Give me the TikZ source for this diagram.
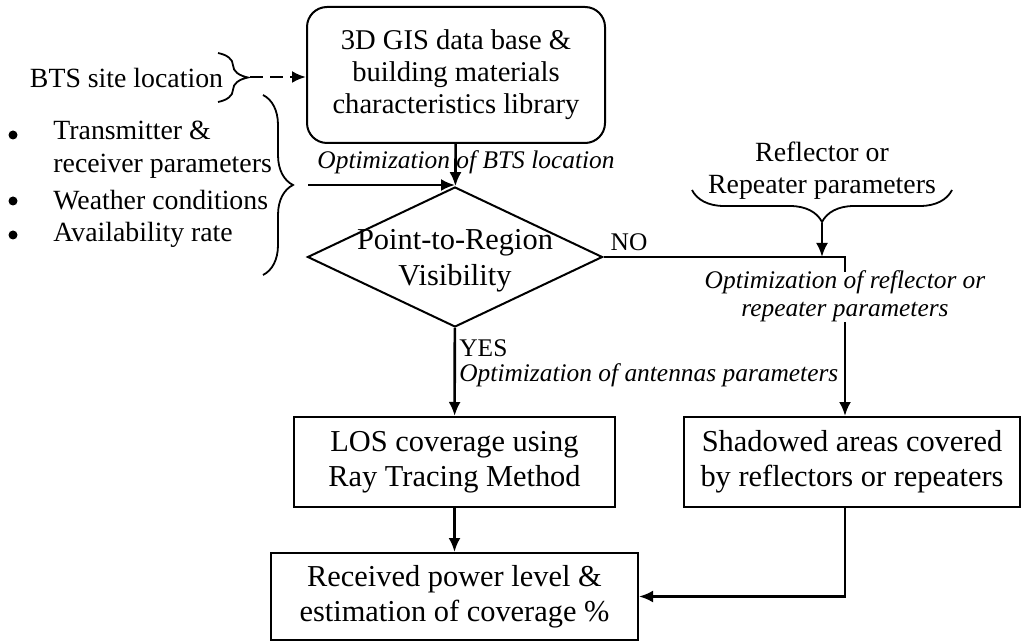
\documentclass[tikz,border=0pt]{standalone}
\usepackage{fontspec}
\setmainfont{Liberation Serif}
\usetikzlibrary{arrows.meta,shapes.geometric,decorations.pathreplacing}
\newcommand\boxfont{\fontsize{15.2}{17.5}\selectfont}
\newcommand\gisfont{\fontsize{14.3}{16}\selectfont}
\newcommand\lblfont{\fontsize{13.9}{16.5}\selectfont}
\newcommand\reflfont{\fontsize{13.9}{16}\selectfont}
\newcommand\optfont{\fontsize{12.7}{14}\selectfont\itshape}
\newcommand\ynfont{\fontsize{12.7}{14}\selectfont}
\tikzset{
  box/.style={draw, line width=1pt, align=center, font=\boxfont, inner sep=0pt},
  arr/.style={-{Latex[length=7pt,width=6pt]}, line width=1.3pt},
  lbl/.style={align=center, font=\lblfont, inner sep=0pt},
  opt/.style={align=center, font=\optfont, inner sep=0pt},
  brc/.style={decorate, line width=0.9pt},
  dot/.style={circle, fill, inner sep=0pt, minimum size=4.5pt},
}
\begin{document}
\begin{tikzpicture}[x=0.5pt,y=-0.5pt]
\useasboundingbox (0,0) rectangle (1021,641);
% main flow
\node[box, rounded corners=10pt, font=\gisfont, minimum width=149pt, minimum height=68pt] (gis) at (456,75) {3D GIS data base \&\\building materials\\characteristics library};
\node[box, diamond, minimum width=147.5pt, minimum height=70pt] (vis) at (455,257)
  {\makebox[0pt]{\raisebox{-14pt}[0pt][0pt]{\begin{tabular}[b]{@{}c@{}}Point-to-Region\\Visibility\end{tabular}}}};
\node[box, minimum width=160.5pt, minimum height=45pt] (los) at (454.5,462) {LOS coverage using\\Ray Tracing Method};
\node[box, minimum width=168pt, minimum height=45pt] (shad) at (852,462) {Shadowed areas covered\\by reflectors or repeaters};
\node[box, minimum width=183.5pt, minimum height=43.5pt] (rec) at (454.5,596.5) {Received power level \&\\estimation of coverage \%};
% inputs on the left
\node[lbl] (bts) at (126.5,78) {BTS site location};
\node[dot] (b1) at (13,135) {};
\node[dot] (b2) at (13,201) {};
\node[dot] (b3) at (13,235) {};
\node[lbl, anchor=west, align=left] (trx) at (53,150) {Transmitter \&\\receiver parameters};
\node[lbl, anchor=west] (wth) at (53,200) {Weather conditions};
\node[lbl, anchor=west] (avl) at (53,235) {Availability rate};
\draw[brc, decoration={brace, amplitude=15pt}] (218,53) -- (218,102);
\draw[brc, decoration={brace, amplitude=15pt}] (263,95) -- (263,275);
\coordinate (btstip) at (250,77);
\coordinate (partip) at (308,185);
\draw[arr, dash pattern=on 6.5pt off 3.5pt] (btstip) -- (btstip -| gis.west);
\draw[arr] (partip) -- (partip -| vis.north);
% reflector inputs
\node[lbl, font=\reflfont] (refl) at (822,171) {Reflector or\\Repeater parameters};
\draw[brc, decoration={brace, amplitude=16pt}] (952,190) -- (692,190);
\coordinate (refltip) at (822,223);
\coordinate (nocorner) at (845,257);
\coordinate (notick) at (845,272);
\coordinate (nodown) at (845,322);
% labels
\node[opt] (optbts) at (466,162) {Optimization of BTS location};
\node[opt] (optref) at (845,296) {Optimization of reflector or\\repeater parameters};
\node[opt, anchor=west] (optant) at (459,375) {Optimization of antennas parameters};
\node[opt, font=\ynfont] (no) at (629,242) {NO};
\node[opt, font=\ynfont, anchor=west] (yes) at (459,348) {YES};
% connectors
\draw[arr] (gis) -- (vis);
\draw[line width=1.3pt] (vis.east) -- (nocorner) -- (notick);
\draw[arr] (refltip) -- (refltip |- nocorner);
\draw[arr] (nodown) -- (nodown |- shad.north);
\draw[arr] (vis) -- (los);
\draw[arr] (los) -- (rec);
\draw[arr] (nodown |- shad.south) -- (nodown |- rec.east) -- (rec.east);
\end{tikzpicture}
\end{document}
